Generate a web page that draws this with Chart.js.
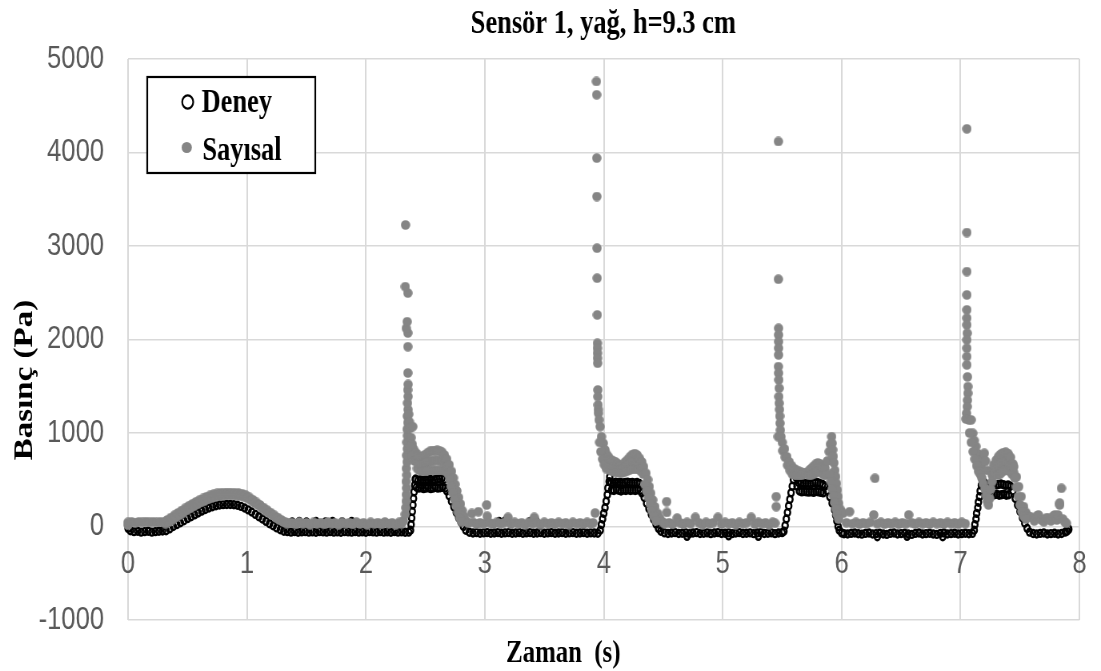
<!DOCTYPE html>
<html>
<head>
<meta charset="utf-8">
<script src="https://cdn.jsdelivr.net/npm/chart.js@4/dist/chart.umd.min.js"></script>
<style>
  html, body { margin: 0; padding: 0; background: #fff; overflow: hidden; }
</style>
</head>
<body>
<!-- drawn wide, shown narrow: gives the condensed look of the original figure -->
<canvas id="basincGrafigi" width="1376" height="671" style="width:1101px;height:671px"></canvas>
<script>
const baslik = "Sensör 1, yağ, h=9.3 cm";
const xBaslik = "Zaman  (s)";
const yBaslik = "Basınç (Pa)";
const seriAdlari = ["Deney", "Sayısal"];

const xEksen = { min: 0, max: 8, adim: 1 };
const yEksen = { min: -1000, max: 5000, adim: 1000 };

// [zaman (s), basinç (Pa)]
const deney = [
  [0, -20], [0.02, -45], [0.05, -55], [0.08, -50], [0.11, -60], [0.14, -55], [0.17, -50], [0.2, -60], [0.23, -55], [0.26, -50], [0.29, -48],
  [0.32, -45], [0.35, -25], [0.38, 0], [0.41, 20], [0.44, 40], [0.47, 62], [0.5, 85], [0.53, 105], [0.56, 125], [0.59, 145], [0.62, 165],
  [0.65, 182], [0.68, 198], [0.71, 212], [0.74, 222], [0.77, 230], [0.8, 234], [0.83, 236], [0.86, 235], [0.89, 233], [0.92, 228],
  [0.95, 215], [0.98, 198], [1.01, 178], [1.04, 155], [1.07, 130], [1.1, 105], [1.13, 80], [1.16, 55], [1.19, 30], [1.22, 8],
  [1.25, -15], [1.28, -35], [1.31, -50], [1.34, -55],
  [1.37, -60], [1.4, -55], [1.43, -62], [1.46, -58], [1.49, -55], [1.52, -60], [1.55, -57], [1.58, -62], [1.61, -55], [1.64, -58],
  [1.67, -60], [1.7, -55], [1.73, -60], [1.76, -57], [1.79, -62], [1.82, -55], [1.85, -58], [1.88, -60], [1.91, -55], [1.94, -60],
  [1.97, -57], [2, -62], [2.03, -55], [2.06, -58], [2.09, -60], [2.12, -55], [2.15, -60], [2.18, -58], [2.21, -62], [2.24, -55],
  [2.27, -60], [2.3, -58], [2.33, -62], [2.36, -60],
  [1.38, 50], [1.44, 55], [1.5, 50], [1.58, 55], [1.66, 50], [1.72, 55], [1.8, 50], [1.88, 55],
  // 1. darbe
  [2.375, -40], [2.38, 20], [2.385, 90], [2.39, 160], [2.395, 230], [2.4, 300], [2.405, 370], [2.41, 440], [2.415, 505],
  [2.42, 505], [2.425, 420], [2.44, 495], [2.445, 410], [2.46, 500], [2.465, 415], [2.48, 490], [2.485, 405], [2.5, 500],
  [2.505, 410], [2.52, 495], [2.525, 415], [2.54, 505], [2.545, 405], [2.56, 495], [2.565, 410], [2.58, 500], [2.585, 420],
  [2.6, 505], [2.605, 410], [2.62, 510], [2.625, 415], [2.64, 520], [2.645, 420], [2.66, 505], [2.665, 410],
  [2.68, 380], [2.7, 330], [2.72, 270], [2.74, 210], [2.76, 150], [2.78, 95], [2.8, 45], [2.82, 0], [2.84, -40], [2.87, -62],
  [2.9, -70], [2.93, -65], [2.96, -72], [2.99, -68], [3.02, -65], [3.05, -72], [3.08, -70], [3.11, -66], [3.14, -72], [3.17, -68],
  [3.2, -65], [3.23, -72], [3.26, -70], [3.29, -66], [3.32, -72], [3.35, -68], [3.38, -65], [3.41, -72], [3.44, -70], [3.47, -66],
  [3.5, -72], [3.53, -68], [3.56, -65], [3.59, -72], [3.62, -70], [3.65, -66], [3.68, -72], [3.71, -68], [3.74, -65], [3.77, -72],
  [3.8, -70], [3.83, -66], [3.86, -72], [3.89, -68], [3.92, -70], [3.95, -72],
  [3.12, 55], [3.17, 60], [3.38, 55], [3.43, 60],
  // 2. darbe
  [3.97, -40], [3.98, 20], [3.99, 80], [4, 140], [4.01, 200], [4.02, 270], [4.03, 340], [4.035, 410], [4.045, 480], [4.05, 530],
  [4.06, 470], [4.065, 390], [4.08, 465], [4.085, 385], [4.1, 475], [4.105, 395], [4.12, 468], [4.125, 388], [4.14, 472],
  [4.145, 380], [4.16, 465], [4.165, 390], [4.18, 470], [4.185, 385], [4.2, 475], [4.205, 392], [4.22, 468], [4.225, 385],
  [4.24, 470], [4.245, 390], [4.26, 465], [4.265, 385], [4.28, 470], [4.285, 392], [4.3, 460], [4.305, 385],
  [4.32, 360], [4.34, 310], [4.36, 250], [4.38, 190], [4.4, 130], [4.42, 75], [4.44, 25], [4.46, -20], [4.48, -50], [4.51, -68],
  [4.54, -75], [4.57, -70], [4.6, -66], [4.63, -75], [4.66, -72], [4.69, -68], [4.72, -76], [4.75, -70], [4.78, -66], [4.81, -75],
  [4.84, -72], [4.87, -68], [4.9, -76], [4.93, -70], [4.96, -66], [4.99, -75], [5.02, -72], [5.05, -68], [5.08, -76], [5.11, -70],
  [5.14, -66], [5.17, -75], [5.2, -72], [5.23, -68], [5.26, -76], [5.29, -70], [5.32, -66], [5.35, -75], [5.38, -72], [5.41, -68],
  [5.44, -76], [5.47, -70], [5.5, -66],
  [4.7, -105], [5.05, -100], [5.3, -105],
  // 3. darbe
  [5.515, -50], [5.525, 10], [5.535, 80], [5.545, 150], [5.555, 220], [5.565, 290], [5.575, 360], [5.585, 430], [5.595, 500], [5.605, 560],
  [5.62, 520], [5.625, 430], [5.64, 470], [5.645, 380], [5.66, 460], [5.665, 370], [5.68, 465], [5.685, 375], [5.7, 460],
  [5.705, 370], [5.72, 462], [5.725, 368], [5.74, 455], [5.745, 372], [5.76, 465], [5.765, 365], [5.78, 470], [5.785, 375],
  [5.8, 468], [5.805, 370], [5.82, 460], [5.825, 365], [5.84, 450], [5.845, 360], [5.86, 430],
  [5.88, 380], [5.9, 320], [5.92, 250], [5.94, 180], [5.95, 120], [5.96, 60], [5.97, 0], [5.98, -40], [6, -70], [6.02, -78],
  [6.05, -80], [6.08, -74], [6.11, -70], [6.14, -78], [6.17, -82], [6.2, -74], [6.23, -70], [6.26, -80], [6.29, -76], [6.32, -72],
  [6.35, -80], [6.38, -84], [6.41, -74], [6.44, -70], [6.47, -80], [6.5, -76], [6.53, -72], [6.56, -80], [6.59, -84], [6.62, -74],
  [6.65, -70], [6.68, -80], [6.71, -76], [6.74, -72], [6.77, -80], [6.8, -84], [6.83, -74], [6.86, -70], [6.89, -80], [6.92, -76],
  [6.95, -72], [6.98, -80], [7.01, -76], [7.04, -72], [7.07, -78], [7.1, -74],
  [6.3, -110], [6.55, -105], [6.85, -110],
  // 4. darbe
  [7.115, -40], [7.12, 20], [7.13, 80], [7.135, 140], [7.145, 200], [7.15, 260], [7.16, 320], [7.165, 380], [7.175, 440], [7.18, 500],
  [7.2, 470], [7.23, 440],
  [7.26, 450], [7.265, 350], [7.28, 455], [7.285, 340], [7.3, 445], [7.305, 345], [7.32, 450], [7.325, 335], [7.34, 455],
  [7.345, 340], [7.36, 448], [7.365, 345], [7.38, 440], [7.385, 335], [7.4, 445], [7.405, 340], [7.42, 430],
  [7.44, 380], [7.46, 300], [7.48, 230], [7.5, 160], [7.52, 95], [7.54, 35], [7.56, -20], [7.58, -60], [7.61, -75],
  [7.64, -80], [7.67, -74], [7.7, -70], [7.73, -80], [7.76, -76], [7.79, -72], [7.82, -80], [7.85, -75], [7.88, -60],
  [7.895, -50], [7.905, -20], [7.91, -30]
];

const sayisal = [
  [0, 15], [0, 45], [0.03, 50], [0.06, 42], [0.09, 50], [0.12, 44], [0.15, 52], [0.18, 45], [0.21, 50], [0.24, 44], [0.27, 50],
  [0.3, 48], [0.315, 30], [0.33, 70], [0.345, 48], [0.36, 95], [0.375, 72], [0.39, 120], [0.405, 97], [0.42, 145], [0.435, 122],
  [0.45, 170], [0.465, 147], [0.48, 195], [0.495, 172], [0.51, 218], [0.525, 194], [0.54, 240], [0.555, 216], [0.57, 262],
  [0.585, 238], [0.6, 282], [0.615, 258], [0.63, 300], [0.645, 276], [0.66, 318], [0.675, 292], [0.69, 333], [0.705, 306],
  [0.72, 346], [0.735, 318], [0.75, 355], [0.765, 326], [0.78, 360], [0.795, 330], [0.81, 362], [0.825, 332], [0.84, 363],
  [0.855, 333], [0.87, 362], [0.885, 332], [0.9, 360], [0.915, 330], [0.93, 358], [0.945, 325], [0.96, 350], [0.975, 318],
  [0.99, 335], [1.005, 300], [1.02, 312], [1.035, 278], [1.05, 285], [1.065, 252], [1.08, 258], [1.095, 226], [1.11, 230],
  [1.125, 198], [1.14, 202], [1.155, 170], [1.17, 175], [1.185, 144], [1.2, 148], [1.215, 118], [1.23, 120], [1.245, 92],
  [1.26, 95], [1.275, 68], [1.29, 70], [1.305, 48], [1.32, 50], [1.335, 30],
  [1.35, 42], [1.38, 40], [1.41, 22], [1.44, 48], [1.47, 30], [1.5, 40], [1.53, 18], [1.56, 45], [1.59, 30], [1.62, 42],
  [1.65, 22], [1.68, 48], [1.71, 30], [1.74, 40], [1.77, 18], [1.8, 45], [1.83, 30], [1.86, 42], [1.89, 22], [1.92, 48],
  [1.95, 30], [1.98, 40], [2.01, 18], [2.04, 45], [2.07, 30], [2.1, 42], [2.13, 22], [2.16, 48], [2.19, 30], [2.22, 40],
  [2.25, 18], [2.28, 45], [2.3, 30],
  // 1. darbe
  [2.315, 60], [2.33, 130], [2.335, 200], [2.338, 270], [2.34, 340], [2.342, 410], [2.338, 480], [2.344, 550], [2.34, 620],
  [2.346, 690], [2.342, 760], [2.348, 830], [2.344, 900], [2.35, 970], [2.346, 1040], [2.352, 1110], [2.348, 1180],
  [2.354, 1250], [2.35, 1320], [2.355, 1390], [2.352, 1460], [2.355, 1520], [2.353, 1642], [2.353, 1923], [2.353, 2070],
  [2.339, 2120], [2.347, 2190], [2.353, 2497], [2.331, 2565], [2.333, 3225],
  [2.36, 1200], [2.365, 1120], [2.37, 1050], [2.38, 950], [2.39, 880], [2.394, 1068], [2.4, 830], [2.375, 850], [2.39, 760],
  [2.41, 700],
  [2.42, 790], [2.426, 705], [2.432, 620], [2.44, 760], [2.446, 680], [2.452, 600], [2.46, 745], [2.466, 668], [2.472, 590],
  [2.48, 750], [2.486, 670], [2.492, 590], [2.5, 770], [2.506, 683], [2.512, 595], [2.52, 790], [2.526, 695], [2.532, 600],
  [2.54, 805], [2.546, 703], [2.552, 600], [2.56, 810], [2.566, 705], [2.572, 600], [2.58, 812], [2.586, 706], [2.592, 600],
  [2.6, 815], [2.606, 708], [2.612, 600], [2.62, 810], [2.626, 705], [2.632, 600], [2.64, 795], [2.646, 698], [2.652, 600],
  [2.66, 765], [2.666, 678], [2.672, 590], [2.68, 720], [2.686, 640], [2.692, 560],
  [2.7, 660], [2.72, 590], [2.735, 520], [2.75, 450], [2.765, 380], [2.78, 310], [2.795, 240], [2.81, 170], [2.825, 110], [2.84, 60],
  [2.705, 500], [2.715, 430], [2.73, 360], [2.745, 290], [2.76, 220], [2.775, 150], [2.79, 90], [2.805, 50],
  [2.86, 35], [2.89, 140], [2.9, 45], [2.93, 25], [2.946, 158], [2.96, 40], [2.99, 30], [3.016, 230], [3.02, 110], [3.04, 40],
  [3.07, 25], [3.1, 45], [3.13, 30], [3.16, 40], [3.195, 98], [3.22, 25], [3.25, 45], [3.28, 30], [3.31, 40], [3.34, 20],
  [3.37, 45], [3.4, 30], [3.416, 98], [3.44, 40], [3.47, 20], [3.5, 45], [3.53, 30], [3.56, 40], [3.59, 25], [3.62, 45],
  [3.65, 30], [3.68, 40], [3.71, 20], [3.74, 45], [3.77, 30], [3.8, 40], [3.83, 25], [3.86, 45], [3.89, 30], [3.91, 40],
  [3.927, 144],
  // 2. darbe
  [3.938, 4760], [3.94, 4617], [3.941, 3940], [3.942, 3529], [3.943, 2977], [3.944, 2656], [3.945, 2263], [3.946, 1960],
  [3.946, 1907], [3.947, 1853], [3.947, 1800], [3.948, 1746], [3.95, 1460], [3.95, 1389], [3.952, 1300], [3.953, 1250],
  [3.955, 1211], [3.96, 1140], [3.969, 1068], [3.98, 960], [3.996, 890], [4.01, 820], [4.02, 780],
  [3.965, 900], [3.975, 800], [3.99, 720], [4.005, 660], [4.02, 620],
  [4.04, 745], [4.046, 672], [4.052, 600], [4.06, 715], [4.066, 652], [4.072, 590], [4.08, 700], [4.086, 642], [4.092, 585],
  [4.1, 690], [4.106, 635], [4.112, 580], [4.12, 670], [4.126, 622], [4.132, 575], [4.14, 650], [4.146, 612], [4.152, 575],
  [4.16, 660], [4.166, 620], [4.172, 580], [4.18, 690], [4.186, 640], [4.192, 590], [4.2, 715], [4.206, 658], [4.212, 600],
  [4.22, 745], [4.226, 678], [4.232, 610], [4.24, 770], [4.246, 695], [4.252, 620], [4.26, 780], [4.266, 700], [4.272, 620],
  [4.28, 765], [4.286, 688], [4.292, 610], [4.3, 730], [4.306, 660], [4.312, 590], [4.32, 690], [4.326, 625], [4.332, 560],
  [4.335, 640], [4.355, 569], [4.37, 500], [4.383, 426], [4.395, 355], [4.411, 284], [4.43, 210], [4.452, 141], [4.47, 90],
  [4.493, 51], [4.345, 450], [4.36, 380], [4.375, 310], [4.39, 240], [4.405, 170], [4.42, 110], [4.44, 60],
  [4.51, 30], [4.529, 266], [4.53, 150], [4.55, 40], [4.58, 25], [4.617, 90], [4.64, 40], [4.67, 25], [4.7, 45], [4.73, 30],
  [4.77, 98], [4.8, 40], [4.83, 20], [4.86, 45], [4.89, 30], [4.92, 40], [4.96, 98], [4.99, 25], [5.02, 45], [5.05, 30],
  [5.08, 40], [5.11, 20], [5.14, 45], [5.17, 30], [5.2, 40], [5.24, 98], [5.27, 25], [5.3, 45], [5.33, 30], [5.36, 40],
  [5.39, 20], [5.42, 45], [5.44, 35], [5.45, 212], [5.45, 319],
  // 3. darbe
  [5.468, 4118], [5.468, 2645], [5.47, 2120], [5.47, 2049], [5.47, 1977], [5.47, 1907], [5.47, 1835], [5.468, 1710],
  [5.47, 1640], [5.472, 1568], [5.475, 1479], [5.472, 1389], [5.475, 1318], [5.478, 1250], [5.48, 1180], [5.482, 1104],
  [5.485, 1030], [5.466, 961], [5.49, 960],
  [5.5, 900], [5.505, 810], [5.52, 830], [5.525, 740], [5.54, 745], [5.545, 655], [5.56, 690], [5.565, 600], [5.58, 650],
  [5.585, 560], [5.6, 620], [5.605, 550], [5.62, 600], [5.625, 548], [5.64, 590], [5.645, 548], [5.66, 580], [5.665, 548],
  [5.68, 575], [5.7, 575], [5.72, 590], [5.725, 548], [5.74, 615], [5.745, 550], [5.76, 640], [5.765, 560], [5.78, 665],
  [5.785, 575], [5.8, 680], [5.805, 590], [5.82, 670], [5.825, 580], [5.84, 640], [5.845, 555], [5.86, 626], [5.865, 548],
  [5.88, 700], [5.895, 800], [5.905, 880], [5.916, 961], [5.92, 890], [5.925, 820], [5.93, 750], [5.935, 680], [5.943, 600],
  [5.95, 533], [5.957, 460], [5.963, 390], [5.97, 320], [5.975, 248], [5.985, 190], [5.995, 160], [6.012, 141],
  [5.9, 560], [5.91, 480], [5.92, 400], [5.93, 330], [5.94, 260], [5.95, 190], [5.96, 130], [5.975, 80],
  [6.04, 40], [6.067, 158], [6.09, 30], [6.12, 45], [6.15, 25], [6.18, 40], [6.21, 30], [6.24, 45], [6.28, 516], [6.27, 124],
  [6.3, 30], [6.33, 45], [6.36, 25], [6.39, 40], [6.42, 30], [6.45, 45], [6.48, 25], [6.51, 40], [6.54, 30], [6.564, 124],
  [6.59, 40], [6.62, 25], [6.65, 45], [6.68, 30], [6.71, 40], [6.74, 25], [6.77, 45], [6.8, 30], [6.83, 40], [6.86, 25],
  [6.89, 45], [6.92, 30], [6.95, 40], [6.98, 25], [7.01, 45], [7.04, 30],
  // 4. darbe
  [7.053, 4253], [7.053, 3144], [7.053, 2726], [7.053, 2477], [7.053, 2317], [7.053, 2228], [7.053, 2156], [7.056, 2067],
  [7.053, 1996], [7.053, 1907], [7.053, 1817], [7.053, 1728], [7.058, 1600], [7.062, 1496], [7.062, 1425], [7.058, 1350],
  [7.056, 1282], [7.05, 1211], [7.045, 1150],
  [7.07, 1140], [7.089, 1140], [7.103, 997], [7.115, 920], [7.13, 856], [7.145, 780], [7.158, 711], [7.175, 650], [7.19, 720],
  [7.2, 783], [7.21, 700], [7.22, 600],
  [7.075, 1000], [7.09, 900], [7.105, 800], [7.12, 720], [7.135, 650], [7.15, 590], [7.165, 560], [7.18, 520], [7.19, 460],
  [7.205, 400], [7.215, 330], [7.225, 270], [7.235, 230], [7.245, 300], [7.255, 400], [7.265, 480],
  [7.26, 600], [7.266, 550], [7.28, 660], [7.286, 570], [7.3, 710], [7.306, 615], [7.312, 550], [7.32, 750], [7.326, 655],
  [7.332, 560], [7.34, 775], [7.346, 680], [7.352, 585], [7.36, 790], [7.366, 695], [7.372, 600], [7.38, 795], [7.386, 700],
  [7.392, 605], [7.4, 780], [7.406, 685], [7.412, 590], [7.42, 740], [7.426, 650], [7.432, 560], [7.44, 670], [7.446, 580],
  [7.448, 640], [7.47, 530], [7.489, 426], [7.51, 320], [7.531, 212], [7.55, 150], [7.57, 110], [7.586, 105],
  [7.455, 520], [7.47, 420], [7.485, 320], [7.5, 230], [7.515, 160], [7.53, 110], [7.55, 80],
  [7.62, 60], [7.64, 110], [7.655, 123], [7.68, 70], [7.7, 50], [7.72, 90], [7.738, 88], [7.76, 60], [7.78, 110], [7.793, 123],
  [7.81, 70], [7.82, 123], [7.834, 230], [7.834, 251], [7.848, 409], [7.86, 80], [7.875, 50], [7.89, 34]
];

// round grey dot after the 0.8 horizontal squeeze of the canvas
function griNokta(w, h, renk) {
  const c = document.createElement("canvas");
  c.width = w;
  c.height = h;
  const g = c.getContext("2d");
  g.fillStyle = renk;
  g.beginPath();
  g.ellipse(w / 2, h / 2, w / 2 - 0.2, h / 2 - 0.2, 0, 0, Math.PI * 2);
  g.fill();
  return c;
}
const sayisalNokta = griNokta(12, 10, "#858585");

const tikYazi = { family: '"Liberation Sans", Arial, sans-serif', size: 32 };
const baslikYazi = 'bold 33px "Liberation Serif", "Times New Roman", serif';

const yazilar = {
  id: "yazilar",
  afterDraw(chart) {
    const ctx = chart.ctx;
    ctx.save();
    ctx.fillStyle = "#000";
    ctx.font = baslikYazi;
    ctx.textBaseline = "alphabetic";
    ctx.textAlign = "center";
    ctx.fillText(baslik, 754, 33);

    ctx.font = 'bold 31px "Liberation Serif", "Times New Roman", serif';
    ctx.fillText(xBaslik, 704, 662);

    ctx.font = baslikYazi;
    ctx.save();
    ctx.translate(40, 380);
    ctx.rotate(-Math.PI / 2);
    ctx.fillText(yBaslik, 0, 0);
    ctx.restore();

    // legend box
    ctx.fillStyle = "#fff";
    ctx.fillRect(184, 77, 210, 96);
    ctx.strokeStyle = "#000";
    ctx.lineWidth = 2.2;
    ctx.strokeRect(184, 77, 210, 96);

    ctx.beginPath();
    ctx.ellipse(234.6, 102, 6.9, 6.6, 0, 0, Math.PI * 2);
    ctx.stroke();

    ctx.fillStyle = "#858585";
    ctx.beginPath();
    ctx.ellipse(233.4, 147.5, 6.4, 5.6, 0, 0, Math.PI * 2);
    ctx.fill();

    ctx.fillStyle = "#000";
    ctx.textAlign = "left";
    ctx.fillText(seriAdlari[0], 252, 112);
    ctx.fillText(seriAdlari[1], 253, 160);
    ctx.restore();
  }
};

const ctx = document.getElementById("basincGrafigi").getContext("2d");

new Chart(ctx, {
  type: "scatter",
  data: {
    datasets: [
      {
        label: seriAdlari[0],
        data: deney.map(([x, y]) => ({ x, y })),
        pointStyle: "circle",
        pointRadius: 3.5,
        pointBorderWidth: 2.4,
        pointBorderColor: "#000",
        pointBackgroundColor: "rgba(0,0,0,0)",
        order: 1,
        clip: false
      },
      {
        label: seriAdlari[1],
        data: sayisal.map(([x, y]) => ({ x, y })),
        pointStyle: sayisalNokta,
        pointRadius: 5,
        order: 0,
        clip: false
      }
    ]
  },
  options: {
    responsive: false,
    devicePixelRatio: 1,
    animation: false,
    events: [],
    layout: { padding: { top: 59, bottom: 51, left: 0, right: 9 } },
    plugins: {
      legend: { display: false },
      title: { display: false },
      tooltip: { enabled: false }
    },
    scales: {
      x: {
        type: "linear",
        position: { y: 0 },
        min: xEksen.min,
        max: xEksen.max,
        ticks: {
          stepSize: xEksen.adim,
          padding: 18,
          color: "#595959",
          font: tikYazi,
          maxRotation: 0,
          callback: v => String(v)
        },
        grid: { color: "#d9d9d9", lineWidth: 2, drawTicks: false },
        border: { display: false }
      },
      y: {
        type: "linear",
        min: yEksen.min,
        max: yEksen.max,
        ticks: {
          stepSize: yEksen.adim,
          padding: 30,
          color: "#595959",
          font: tikYazi,
          callback: v => String(v)
        },
        grid: { color: "#d9d9d9", lineWidth: 1.5, drawTicks: false },
        border: { display: false },
        afterFit(scale) {
          scale.width = 160;
        }
      }
    }
  },
  plugins: [yazilar]
});
</script>
</body>
</html>
